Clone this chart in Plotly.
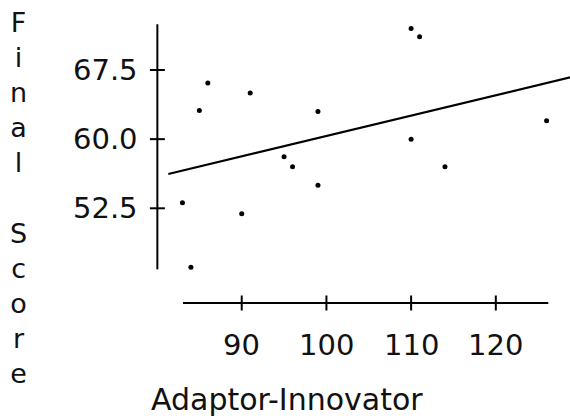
import numpy as np
import plotly.graph_objects as go

# Adaptor-Innovator scores against final scores
adaptor_innovator = [83, 84, 85, 86, 90, 91, 95, 96, 99, 99, 110, 110, 111, 114, 126]
final_score = [53.1, 46.1, 63.1, 66.1, 51.9, 65.0, 58.1, 57.0, 63.0, 55.0, 72.0, 60.0, 71.1, 57.0, 62.0]

x_ticks = [90, 100, 110, 120]
x_tick_labels = ["90", "100", "110", "120"]
y_ticks = [52.5, 60.0, 67.5]
y_tick_labels = ["52.5", "60.0", "67.5"]

x_title = "Adaptor-Innovator"
y_title = "Final Score"

# The plot area fills the whole page; the detached axes are drawn inside it
X_RANGE = [61.46, 128.76]
Y_RANGE = [29.65, 75.09]
X_AXIS_SPAN = (83.07, 126.2)   # horizontal axis extent (data units)
Y_AXIS_SPAN = (45.88, 72.46)   # vertical axis extent (data units)
X_AXIS_AT_Y = 42.23            # y where the horizontal axis sits
Y_AXIS_AT_X = 80.04            # x where the vertical axis sits
FIT_X = (81.33, 130.0)         # extent of the fitted line

FONT = "DejaVu Sans"
INK = "#000000"
TEXT = "#111111"
TICK_FONT = dict(family=FONT, size=29, color=TEXT)

slope, intercept = np.polyfit(adaptor_innovator, final_score, 1)
fit_x = np.array(FIT_X)
fit_y = intercept + slope * fit_x

fig = go.Figure()
fig.add_trace(go.Scatter(
    x=list(fit_x), y=list(fit_y), mode="lines",
    line=dict(color=INK, width=2.2), hoverinfo="skip", showlegend=False,
))
fig.add_trace(go.Scatter(
    x=adaptor_innovator, y=final_score, mode="markers",
    marker=dict(color=INK, size=5), cliponaxis=False, showlegend=False,
))

shapes = [
    dict(type="line", xref="x", yref="y", x0=X_AXIS_SPAN[0], x1=X_AXIS_SPAN[1],
         y0=X_AXIS_AT_Y, y1=X_AXIS_AT_Y, line=dict(color=INK, width=2)),
    dict(type="line", xref="x", yref="y", x0=Y_AXIS_AT_X, x1=Y_AXIS_AT_X,
         y0=Y_AXIS_SPAN[0], y1=Y_AXIS_SPAN[1], line=dict(color=INK, width=2)),
]
for t in x_ticks:
    shapes.append(dict(type="line", xref="x", yref="y", x0=t, x1=t,
                       ysizemode="pixel", yanchor=X_AXIS_AT_Y, y0=-7.5, y1=7.5,
                       line=dict(color=INK, width=2)))
for t in y_ticks:
    shapes.append(dict(type="line", xref="x", yref="y", y0=t, y1=t,
                       xsizemode="pixel", xanchor=Y_AXIS_AT_X, x0=-7.5, x1=7.5,
                       line=dict(color=INK, width=2)))

annotations = []
for t, lab in zip(x_ticks, x_tick_labels):
    annotations.append(dict(x=t, y=X_AXIS_AT_Y, xref="x", yref="y", text=lab,
                            showarrow=False, xanchor="center", yanchor="middle",
                            yshift=-42, font=TICK_FONT))
for t, lab in zip(y_ticks, y_tick_labels):
    annotations.append(dict(x=Y_AXIS_AT_X, y=t, xref="x", yref="y", text=lab,
                            showarrow=False, xanchor="right", yanchor="middle",
                            xshift=-17, font=TICK_FONT))

annotations.append(dict(x=286.7 / 570, y=1 - 399.7 / 419, xref="paper", yref="paper",
                        text=x_title, showarrow=False, xanchor="center", yanchor="middle",
                        font=dict(family=FONT, size=30, color=TEXT)))
stacked = "<br>".join(" " if c == " " else c for c in y_title)
annotations.append(dict(x=18 / 570, y=1 - 198 / 419, xref="paper", yref="paper",
                        text=stacked, showarrow=False, xanchor="center", yanchor="middle",
                        align="center", font=dict(family=FONT, size=27, color=TEXT)))

fig.update_layout(
    width=570, height=419,
    margin=dict(l=0, r=0, t=0, b=0),
    paper_bgcolor="white", plot_bgcolor="white",
    xaxis=dict(range=X_RANGE, visible=False, domain=[0, 1]),
    yaxis=dict(range=Y_RANGE, visible=False, domain=[0, 1]),
    shapes=shapes, annotations=annotations, showlegend=False,
)

fig.write_html("out.html")
